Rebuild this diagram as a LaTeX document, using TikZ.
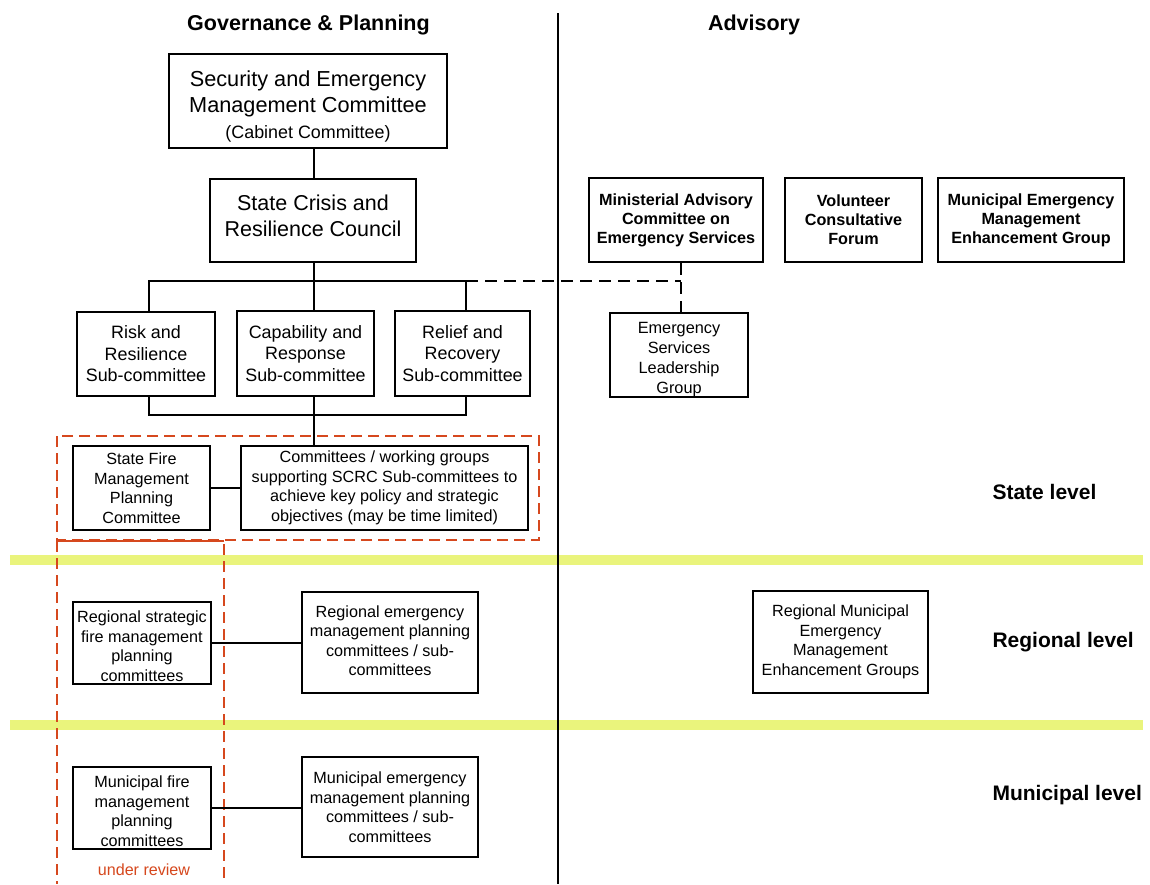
\documentclass[tikz,border=0pt]{standalone}
\usepackage{fontspec}
\setmainfont{Liberation Sans}
\definecolor{rv}{RGB}{214,72,30}
\definecolor{bandc}{RGB}{234,244,124}
\tikzset{
  box/.style={draw, line width=2.2pt, inner sep=0pt, align=center, fill=white,
    font=\fontsize{16.2}{19.5}\selectfont},
  bbox/.style={box, font=\fontsize{16.2}{19}\selectfont\bfseries},
  conn/.style={line width=2pt},
  dconn/.style={line width=2pt, dash pattern=on 12pt off 7pt},
  rdash/.style={draw=rv, line width=2pt, dash pattern=on 11pt off 6pt},
  bandline/.style={line width=10pt, draw=bandc},
  hdr/.style={font=\fontsize{21.5}{24}\selectfont\bfseries},
  lvl/.style={font=\fontsize{21}{24}\selectfont\bfseries, anchor=west},
}
\begin{document}
\begin{tikzpicture}[x=1pt, y=-1pt]
\useasboundingbox (0,0) rectangle (1150,884);
\fill[white] (0,0) rectangle (1150,884);

% level bands
\draw[bandline] (10,560) -- (1143,560);
\draw[bandline] (10,725) -- (1143,725);

% divider
\draw[line width=2pt] (558,13) -- (558,884);

% headers
\node[hdr] (hgov) at (308.5,25) {Governance \& Planning};
\node[hdr] (hadv) at (754,25) {Advisory};

% level labels
\node[lvl] (lstate) at (989,492) {State level};
\node[lvl] (lreg) at (989,642) {Regional level};
\node[lvl] (lmun) at (989,795) {Municipal level};

% red dashed outlines
\draw[rdash] (57,436) rectangle (539,540);
\draw[draw=rv, line width=2pt] (57,541) -- (224,541);
\draw[rdash] (57,541) -- (57,884);
\draw[rdash] (224,544) -- (224,884);

% governance boxes
\node[box, minimum width=278pt, minimum height=94pt, font=\fontsize{21.7}{26}\selectfont] (semc) at (308,101)
  {\mbox{}\\[0pt]Security and Emergency\\Management Committee\\{\fontsize{17.9}{21}\selectfont (Cabinet Committee)}};
\node[box, minimum width=206pt, minimum height=83pt, font=\fontsize{21.5}{26}\selectfont] (scrc) at (313,220.5)
  {State Crisis and\\Resilience Council\\[-16pt]\mbox{}};
\node[box, minimum width=138pt, minimum height=84pt, font=\fontsize{17.9}{21.5}\selectfont] (risk) at (146,354)
  {Risk and\\Resilience\\Sub-committee};
\node[box, minimum width=137pt, minimum height=85pt, font=\fontsize{17.9}{21.5}\selectfont] (cap) at (305.5,353.5)
  {Capability and\\Response\\Sub-committee};
\node[box, minimum width=135pt, minimum height=85pt, font=\fontsize{17.9}{21.5}\selectfont] (relief) at (462.5,353.5)
  {Relief and\\Recovery\\Sub-committee};
\node[box, minimum width=137pt, minimum height=84pt] (sfmpc) at (141.5,488)
  {State Fire\\Management\\Planning\\Committee};
\node[box, minimum width=287pt, minimum height=84pt] (cwg) at (384.5,488)
  {Committees / working groups\\supporting SCRC Sub-committees to\\achieve key policy and strategic\\objectives (may be time limited)};
\node[box, minimum width=138pt, minimum height=82pt] (regsf) at (142,643)
  {\mbox{}\\[-1.7pt]Regional strategic\\fire management\\planning\\committees};
\node[box, minimum width=176pt, minimum height=101pt] (regem) at (390,642.5)
  {Regional emergency\\management planning\\committees / sub-\\committees\\[-15.5pt]\mbox{}};
\node[box, minimum width=138pt, minimum height=82pt] (munf) at (142,808)
  {\mbox{}\\[-1.7pt]Municipal fire\\management\\planning\\committees};
\node[box, minimum width=176pt, minimum height=100pt] (munem) at (390,807)
  {Municipal emergency\\management planning\\committees / sub-\\committees};
\node[text=rv, font=\fontsize{16.1}{19}\selectfont] (review) at (144,870) {under review};

% advisory boxes
\node[bbox, minimum width=174pt, minimum height=84pt] (maces) at (676,220)
  {Ministerial Advisory\\Committee on\\Emergency Services};
\node[bbox, minimum width=137pt, minimum height=84pt] (vcf) at (853.5,220)
  {Volunteer\\Consultative\\Forum};
\node[bbox, minimum width=186pt, minimum height=84pt] (memeg) at (1031,220)
  {Municipal Emergency\\Management\\Enhancement Group};
\node[box, minimum width=138pt, minimum height=84pt, font=\fontsize{16.3}{20}\selectfont] (eslg) at (679,355)
  {\mbox{}\\[-0.3pt]Emergency\\Services\\Leadership\\Group};
\node[box, minimum width=175pt, minimum height=102pt] (rmemeg) at (840.5,642)
  {Regional Municipal\\Emergency\\Management\\Enhancement Groups};

% junction coordinates
\coordinate (t1) at (314,281);
\coordinate (bl) at (149,281);
\coordinate (br) at (466,281);
\coordinate (dj) at (681,281);
\coordinate (t2) at (314,415);
\coordinate (lb1) at (149,415);
\coordinate (lb2) at (466,415);

% connectors
\draw[conn] (semc.south -| t1) -- (scrc.north -| t1);
\draw[conn] (scrc.south -| t1) -- (t1);
\draw[conn] (bl |- risk.north) -- (bl) -- (br) -- (br |- relief.north);
\draw[conn] (t1) -- (t1 |- cap.north);
\draw[conn] (lb1 |- risk.south) -- (lb1) -- (lb2) -- (lb2 |- relief.south);
\draw[conn] (t1 |- cap.south) -- (t2) -- (t2 |- cwg.north);
\draw[conn] (sfmpc.east) -- (sfmpc.east -| cwg.west);
\draw[conn] (regsf.east) -- (regsf.east -| regem.west);
\draw[conn] (munf.east) -- (munf.east -| munem.west);
\draw[dconn] (br) -- (dj);
\draw[dconn] (maces.south -| dj) -- (eslg.north -| dj);
\end{tikzpicture}
\end{document}
